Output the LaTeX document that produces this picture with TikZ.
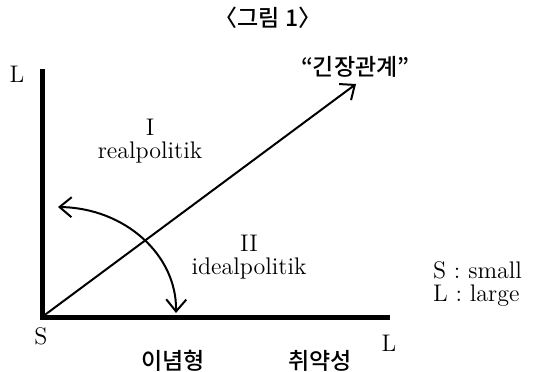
\documentclass[tikz,border=0pt]{standalone}
\usepackage{fontspec}
\newfontfamily\kor{Noto Sans CJK KR Medium}
\usetikzlibrary{arrows.meta}

\begin{document}
\begin{tikzpicture}[x=0.5pt, y=-0.5pt, every node/.style={font=\fontsize{12}{14}\selectfont},
    axis/.style={line width=2.5pt},
    link/.style={line width=1pt, -{Straight Barb[length=6pt, width=10pt, line width=1pt]}},
    hangul/.style={font=\kor\fontsize{11.5}{13}\selectfont}]
    \useasboundingbox (0,0) rectangle (536,371);
    % title
    \node[hangul] (title) at (268,18) {〈그림 1〉};
    % axes
    \coordinate (o) at (42,317);
    \coordinate (ytop) at (42,69);
    \coordinate (xend) at (390,317);
    \draw[axis] (ytop) -- (o) -- (xend);
    \node (ly) at (17,74) {L};
    \node (s) at (41,336) {S};
    \node (lx) at (389,343) {L};
    % diagonal: tension
    \coordinate (tip) at (356,84);
    \draw[link] (o) -- (tip);
    \node[hangul, anchor=west] (tension) at (294,67) {“긴장관계”};
    % curved double arrow between the two types
    \coordinate (realend) at (58,207);
    \coordinate (idealend) at (176,313);
    \draw[link, {Straight Barb[length=6pt, width=10pt, line width=1pt]}-{Straight Barb[length=6pt, width=10pt, line width=1pt]}]
        (realend) .. controls (125,208) and (177,255) .. (idealend);
    % region labels
    \node (one) at (150,127) {I};
    \node (real) at (150,152) {realpolitik};
    \node (two) at (249,243) {II};
    \node (ideal) at (249,268) {idealpolitik};
    % axis captions
    \node[hangul] (ideo) at (173,361) {이념형};
    \node[hangul] (vuln) at (320,361) {취약성};
    % legend
    \node[anchor=west] (small) at (426,270) {S~:\ small};
    \node[anchor=west] (large) at (426,296) {L~:\ large};
\end{tikzpicture}
\end{document}
